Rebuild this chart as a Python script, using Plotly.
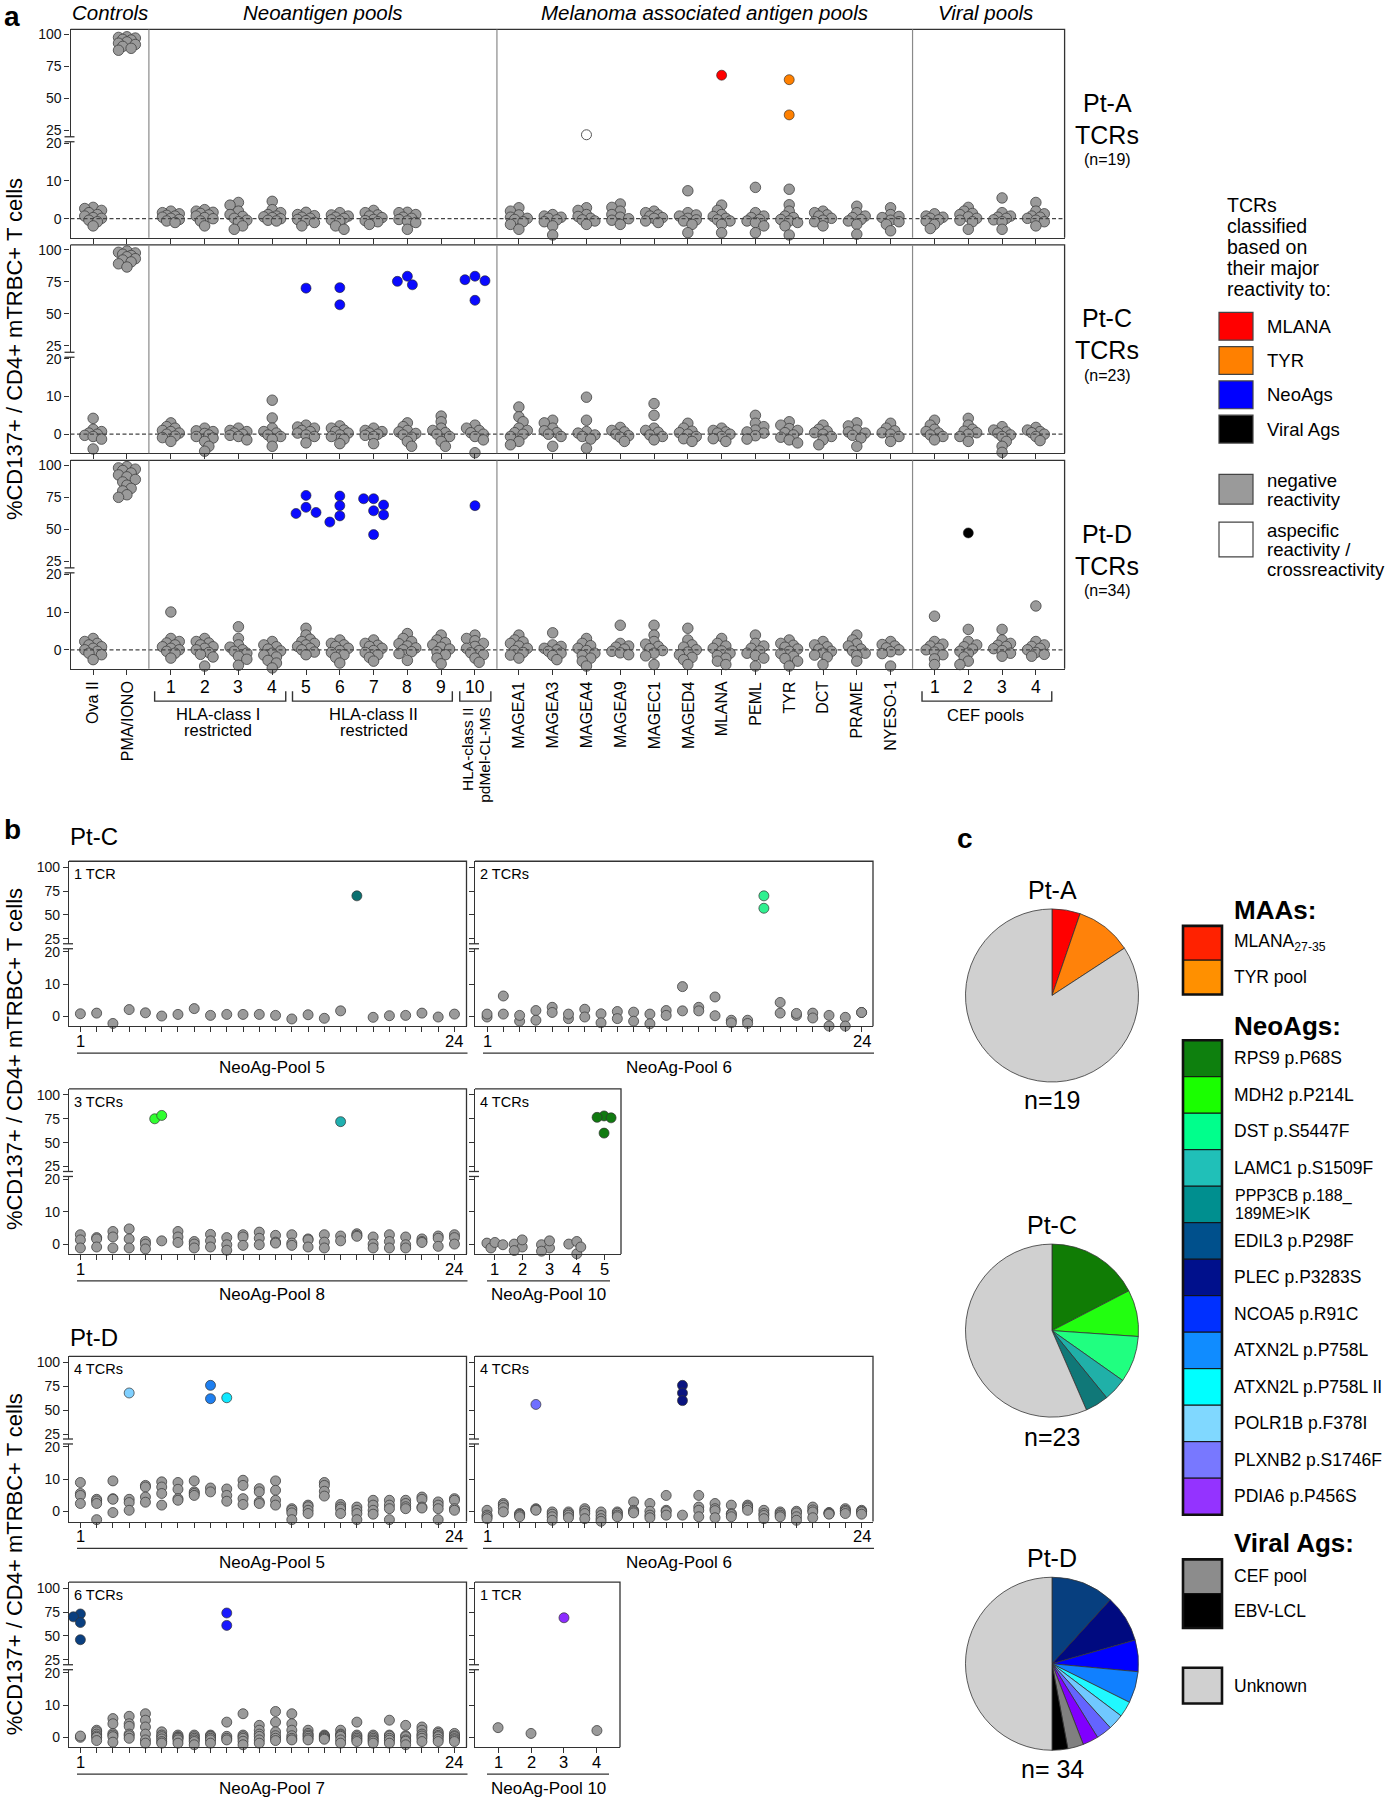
import plotly.graph_objects as go

W, H = 1385, 1800
SANS = "Liberation Sans, Arial, Helvetica, sans-serif"
AX = "#333333"

# ============================ DATA ============================
CONTROL_LABELS = ["Ova II", "PMA/IONO"]
NEO_POOL_LABELS = ["1", "2", "3", "4", "5", "6", "7", "8", "9", "10"]
MAA_LABELS = ["MAGEA1", "MAGEA3", "MAGEA4", "MAGEA9", "MAGEC1", "MAGED4",
              "MLANA", "PEML", "TYR", "DCT", "PRAME", "NYESO-1"]
CEF_POOL_LABELS = ["1", "2", "3", "4"]
GROUP_TITLES = ["Controls", "Neoantigen pools", "Melanoma associated antigen pools", "Viral pools"]
CATEGORY_KEYS = (CONTROL_LABELS + ["Neo " + s for s in NEO_POOL_LABELS] + MAA_LABELS
                 + ["CEF " + s for s in CEF_POOL_LABELS])

# %CD137+ per TCR (negative reactivity), one list per category (order of CATEGORY_KEYS)
PT_A_VALUES = [
    [3.0, 2.7, 2.2, 1.6, 1.1, 0.7, 0.3, 0.1, -0.4, -0.8, -1.9],
    [98, 97.5, 97, 96, 95.5, 94, 93, 92, 90.5, 89, 87.5],
    [2.0, 1.6, 1.3, 0.9, 0.7, 0.4, 0.1, -0.2, -0.6, -1.0],
    [2.4, 2.0, 1.7, 1.4, 1.0, 0.7, 0.3, 0.0, -0.6, -1.9],
    [4.3, 3.6, 2.0, 1.1, 0.6, 0.1, -0.4, -0.8, -1.9, -2.8],
    [4.6, 2.4, 1.6, 1.1, 0.7, 0.5, 0.3, 0.0, -0.4, -0.6],
    [1.7, 1.1, 0.8, 0.4, 0.1, -0.2, -0.5, -1.0, -1.9],
    [1.6, 1.0, 0.7, 0.4, 0.1, -0.3, -0.6, -1.9, -2.8],
    [2.2, 1.6, 1.0, 0.7, 0.3, -0.2, -0.5, -0.8, -1.5],
    [1.7, 1.6, 1.1, 0.4, 0.1, -0.2, -0.6, -1.0, -2.8],
    [],
    [],
    [2.9, 2.0, 1.0, 0.4, 0.1, -0.2, -0.8, -1.5, -2.8],
    [1.1, 0.7, 0.4, 0.1, -0.3, -0.8, -1.9, -4.3],
    [2.9, 2.2, 1.1, 0.6, 0.1, -0.3, -0.6, -1.5],
    [3.9, 3.0, 2.0, 1.1, 0.4, 0.0, -0.4, -1.5],
    [2.0, 1.6, 1.0, 0.7, 0.3, 0.1, -0.6, -1.0],
    [7.4, 1.6, 1.0, 0.7, 0.1, -0.3, -0.6, -1.5, -3.7],
    [3.6, 2.2, 1.1, 0.6, 0.1, -0.3, -0.6, -1.5, -3.7],
    [8.3, 1.6, 0.7, 0.3, -0.2, -0.6, -1.0, -1.9, -3.7],
    [7.8, 3.7, 2.0, 0.7, 0.3, -0.2, -0.6, -1.0, -1.9, -4.3],
    [2.0, 1.6, 1.0, 0.7, 0.1, -0.4, -0.8, -1.9],
    [3.3, 1.6, 0.7, 0.3, -0.2, -0.6, -1.5, -4.1],
    [2.9, 1.1, 0.6, 0.3, -0.4, -0.8, -1.5, -3.2],
    [1.3, 0.7, 0.4, 0.1, -0.3, -0.6, -1.5, -2.6],
    [3.0, 2.0, 1.4, 1.1, 0.5, 0.1, -0.4, -0.8, -2.8],
    [5.5, 1.6, 0.7, 0.4, 0.1, -0.3, -0.8, -2.8],
    [4.3, 2.0, 1.3, 0.7, 0.4, 0.1, -0.4, -0.8, -1.9],
]
PT_C_VALUES = [
    [4.2, 1.3, 0.7, 0.3, 0.0, -0.3, -0.6, -1.3, -3.9],
    [99, 98, 97.5, 96.5, 95.5, 94.5, 93, 92, 90.5, 89, 86.5],
    [3.0, 2.0, 1.6, 1.0, 0.7, 0.3, 0.0, -0.5, -0.9, -1.9],
    [1.6, 0.9, 0.7, 0.2, -0.2, -0.6, -1.0, -1.9, -3.2, -4.5],
    [1.6, 1.0, 0.7, 0.3, 0.0, -0.3, -0.6, -1.5],
    [9.0, 4.3, 1.6, 0.7, 0.3, -0.2, -0.6, -1.3, -3.2],
    [2.4, 1.9, 1.6, 1.0, 0.7, 0.3, -0.2, -0.6, -2.3],
    [2.2, 1.6, 1.1, 0.7, 0.3, -0.2, -0.6, -1.3, -2.5],
    [1.6, 1.0, 0.7, 0.3, 0.0, -0.3, -0.6, -2.5],
    [3.0, 2.0, 1.0, 0.6, 0.2, -0.2, -0.8, -1.9, -3.2],
    [4.8, 3.3, 1.6, 1.0, 0.4, 0.0, -0.6, -1.9, -3.2],
    [2.4, 1.6, 1.0, 0.4, 0.0, -0.6, -1.5, -4.9],
    [7.2, 4.6, 3.3, 1.6, 1.0, 0.4, 0.0, -0.6, -1.9, -2.8],
    [3.7, 3.0, 1.6, 0.9, 0.4, 0.0, -0.6, -3.2],
    [9.8, 3.7, 0.7, 0.3, -0.2, -0.6, -1.3, -3.7],
    [1.8, 1.0, 0.6, 0.0, -0.4, -0.8, -1.9],
    [8.1, 5.0, 1.6, 1.0, 0.5, -0.2, -0.6, -1.5],
    [2.9, 1.6, 0.8, 0.4, 0.0, -0.6, -1.2, -1.9],
    [1.6, 1.0, 0.6, 0.3, 0.0, -0.6, -1.2, -1.9],
    [5.0, 2.9, 2.0, 1.1, 0.6, 0.3, -0.4, -1.3],
    [3.3, 2.4, 1.5, 1.0, 0.4, -0.2, -0.8, -1.5, -2.3],
    [2.4, 1.3, 0.8, 0.4, 0.0, -0.6, -1.5, -2.8],
    [3.0, 2.2, 1.1, 0.6, 0.3, -0.3, -1.0, -3.2],
    [2.9, 1.6, 0.9, 0.4, 0.0, -0.6, -1.9],
    [3.7, 2.4, 1.3, 0.7, 0.3, -0.2, -0.6, -1.5],
    [4.2, 2.4, 1.3, 0.8, 0.4, 0.0, -0.6, -1.9],
    [2.0, 1.1, 0.6, 0.3, -0.2, -0.6, -1.9, -3.2, -4.8],
    [1.8, 1.1, 0.7, 0.4, 0.0, -0.6, -1.7],
]
PT_D_VALUES = [
    [3.0, 2.2, 1.7, 1.3, 0.8, 0.4, 0.0, -0.4, -0.9, -1.3, -2.6],
    [99, 98, 97, 96, 94, 92.5, 91, 89, 87, 84.5, 82, 80, 77, 75],
    [10.0, 3.0, 2.2, 1.8, 1.3, 0.8, 0.4, 0.0, -0.4, -0.9, -2.2],
    [3.0, 2.2, 1.8, 1.3, 0.8, 0.4, 0.0, -0.7, -1.2, -1.9, -4.3],
    [6.1, 3.0, 1.3, 0.7, 0.0, -0.4, -0.9, -1.7, -2.5, -4.1],
    [2.2, 1.3, 0.8, 0.2, -0.3, -0.9, -1.4, -1.9, -2.8, -3.5, -4.8],
    [5.7, 3.9, 2.8, 2.2, 1.7, 1.3, 0.9, 0.4, 0.0, -0.6, -1.3],
    [2.6, 1.7, 1.3, 0.9, 0.4, -0.2, -0.7, -1.3, -2.0, -3.5],
    [2.6, 1.7, 1.2, 0.9, 0.4, -0.2, -0.7, -1.3, -2.0, -3.0],
    [4.3, 3.0, 2.2, 1.6, 1.0, 0.5, 0.0, -0.5, -1.0, -2.8],
    [3.9, 2.6, 1.9, 1.3, 0.7, 0.2, -0.5, -1.3, -2.2, -3.7],
    [3.9, 3.0, 2.4, 1.7, 0.9, 0.4, -0.2, -0.8, -1.3, -2.2, -3.3],
    [3.9, 2.6, 2.1, 1.7, 1.0, 0.4, -0.2, -0.7, -1.4, -2.2],
    [4.5, 1.3, 0.9, 0.4, 0.0, -0.4, -0.9, -1.5, -2.6],
    [3.0, 1.7, 1.1, 0.4, -0.2, -0.9, -1.5, -2.2, -3.0, -4.3],
    [6.5, 1.7, 1.0, 0.7, 0.2, -0.4, -0.8, -1.3],
    [6.5, 3.9, 2.2, 1.5, 0.9, 0.3, -0.2, -0.9, -1.6, -3.9],
    [5.7, 2.6, 1.3, 0.7, 0.0, -0.6, -1.3, -2.0, -2.6, -3.9],
    [3.0, 1.7, 1.0, 0.4, -0.3, -0.9, -1.5, -2.2, -3.0, -3.9],
    [3.9, 1.7, 1.0, 0.4, -0.3, -0.9, -1.5, -2.2, -4.3],
    [2.6, 1.7, 1.2, 0.7, 0.2, -0.4, -1.0, -1.7, -2.3, -3.0, -4.3],
    [2.2, 1.3, 0.8, 0.2, -0.4, -0.9, -1.4, -1.9, -3.9],
    [3.9, 2.6, 1.6, 1.0, 0.2, -0.3, -0.9, -1.5, -3.0],
    [2.2, 1.4, 1.0, 0.5, 0.0, -0.5, -1.0, -4.3],
    [8.9, 2.2, 1.5, 1.0, 0.4, 0.0, -0.6, -1.3, -2.4, -3.9],
    [5.4, 2.2, 1.3, 0.8, 0.2, -0.4, -0.9, -1.9, -3.0, -3.9],
    [5.4, 2.6, 1.7, 1.2, 0.9, 0.3, -0.2, -0.9, -1.7],
    [11.6, 2.2, 1.3, 0.9, 0.4, 0.0, -0.7, -1.2, -1.7],
]
# reactive TCRs: (category, value, class)
PT_A_HITS = [("MLANA", 68.0, "MLANA"), ("TYR", 64.5, "TYR"), ("TYR", 37.0, "TYR")]
PT_C_HITS = [("Neo 5", 70.0, "NeoAg"), ("Neo 6", 70.4, "NeoAg"), ("Neo 6", 57.0, "NeoAg"),
             ("Neo 8", 79.3, "NeoAg"), ("Neo 8", 75.3, "NeoAg"), ("Neo 8", 72.6, "NeoAg"),
             ("Neo 10", 79.3, "NeoAg"), ("Neo 10", 76.6, "NeoAg"), ("Neo 10", 75.8, "NeoAg"),
             ("Neo 10", 60.5, "NeoAg")]
PT_D_HITS = [("Neo 5", 76.5, "NeoAg"), ("Neo 5", 67.2, "NeoAg"), ("Neo 5", 63.2, "NeoAg"),
             ("Neo 5", 62.4, "NeoAg"), ("Neo 6", 76.0, "NeoAg"), ("Neo 6", 68.5, "NeoAg"),
             ("Neo 6", 60.5, "NeoAg"), ("Neo 6", 55.7, "NeoAg"), ("Neo 7", 73.9, "NeoAg"),
             ("Neo 7", 73.9, "NeoAg"), ("Neo 7", 69.0, "NeoAg"), ("Neo 7", 64.5, "NeoAg"),
             ("Neo 7", 61.3, "NeoAg"), ("Neo 7", 45.9, "NeoAg"), ("Neo 10", 68.5, "NeoAg"),
             ("CEF 2", 47.2, "Viral")]
PT_A_ASPECIFIC = [("MAGEA4", 21.5)]
PATIENT_NAMES = ["Pt-A", "Pt-C", "Pt-D"]
PATIENT_N = [19, 23, 34]

CLASS_COLORS = {"MLANA": "#ff0000", "TYR": "#ff8000", "NeoAg": "#0a0aff", "Viral": "#000000"}
LEGEND_A_LABELS = ["MLANA", "TYR", "NeoAgs", "Viral Ags"]
LEGEND_A_COLORS = ["#ff0000", "#ff8000", "#0000ff", "#000000"]

# ---- panel b: per peptide position, negative TCR values; hits (position, value, antigen)
PTC_POOL5 = [[0.8], [1.0], [-2.2], [2.1], [1.1], [0.1], [0.6], [2.4], [0.3], [0.6], [0.6], [0.6],
             [0.3], [-0.8], [0.5], [-0.6], [1.7], [], [-0.3], [0.2], [0.3], [1.0], [-0.2], [0.7]]
PTC_POOL5_HITS = [(18, 70.0, "PPP3CB")]
PTC_POOL6 = [[-0.2, 0.7], [6.3, 0.7], [-1.5, 0.3], [1.8, -1.2], [2.8, 1.2], [-0.7, 0.7],
             [2.2, -0.2], [0.8, -2.0], [1.5, -0.7], [1.3, -1.5], [0.7, -2.3], [1.8, 0.3],
             [9.2, 1.7], [2.8, 1.7], [6.0, 0.2], [-1.2, -2.0], [-1.2, -2.2], [],
             [4.3, 1.0], [0.3, 0.9], [1.0, -0.5], [0.3, -3.0], [-0.3, -3.0], [1.2, 1.2]]
PTC_POOL6_HITS = [(18, 70.0, "DST"), (18, 57.0, "DST")]
PTC_POOL8 = [[2.9, 1.3, -1.2], [2.0, 1.6, -0.9], [3.9, 2.2, -1.2], [4.7, 1.6, -1.2],
             [0.8, 0.0, -1.5], [1.0], [3.9, 2.2, 0.5], [0.8, 0.0, -1.2], [3.0, 1.0, -0.9],
             [2.0, -0.2, -1.9], [2.9, 2.2, -0.4], [3.7, 1.8, -0.2], [2.7, 0.6, 0.3],
             [2.9, 0.3, -0.4], [1.6, 1.3, -0.9], [2.9, 0.6, -1.2], [2.5, 1.0],
             [3.2, 2.7, 2.4], [2.2, 0.0, -1.2], [2.9, 0.8, -1.2], [2.2, -0.2, -1.2],
             [1.6, 0.8, 0.5], [2.5, 1.8, -0.7], [2.9, 2.0, 0.0]]
PTC_POOL8_HITS = [(6, 75.0, "MDH2"), (6, 78.5, "MDH2"), (17, 72.0, "LAMC1")]
PTC_POOL10 = [[0.3, -1.2, 0.5, -0.2], [0.0, -0.9, 1.3, -2.0], [-0.2, -1.2, 1.0, -2.2],
              [0.0, -3.0, 0.8, -0.9], []]
PTC_POOL10_HITS = [(5, 78.0, "RPS9"), (5, 76.0, "RPS9"), (5, 76.5, "RPS9"), (5, 60.0, "RPS9")]

PTD_POOL5 = [[9.0, 5.6, 5.0, 2.5], [3.8, 3.3, 2.5, -2.5], [9.5, 4.0, 3.8, -0.3], [3.8, 2.8, 0.4],
             [8.1, 7.6, 4.5, 2.9], [9.2, 7.6, 5.6, 2.0], [9.0, 6.9, 4.0, 3.5], [9.5, 6.1, 5.6, 5.0],
             [7.3, 6.1], [7.0, 5.0, 3.2], [9.7, 8.1, 4.0, 2.2], [7.1, 6.1, 3.0, 2.5],
             [9.5, 6.6, 3.5, 2.0], [0.9, 0.4, -0.4, -2.5], [2.0, 1.5, 0.4, -0.6],
             [9.0, 8.1, 6.3, 4.8], [2.2, 1.4, 0.8, -0.6], [1.4, 0.4, -0.6, -2.5],
             [3.5, 2.0, 0.4, -0.8], [3.5, 2.0, 0.9, -2.5], [3.5, 2.5, 1.5, 0.9],
             [4.5, 3.8, 1.4, 1.1], [3.0, 2.0, 0.9, -2.5], [4.0, 3.5, 0.9, 0.4]]
PTD_POOL5_HITS = [(4, 68.0, "POLR1B"), (9, 76.0, "ATXN2L"), (9, 62.0, "ATXN2L"),
                  (10, 63.0, "ATXN2L II")]
PTD_POOL6 = [[0.4, -1.1, -1.6, -2.2], [2.5, 2.0, 1.2, -0.1], [-0.6, -0.9, -1.1, -1.6],
             [0.9, 0.6, 0.4], [-0.1, -0.8, -1.6, -2.7], [-0.1, -0.6, -1.1, -1.9],
             [0.9, 0.2, -0.6, -2.2], [-0.1, -1.2, -2.2, -3.0], [-0.1, -0.5, -1.1, -1.6],
             [3.0, 0.4, 0.0, -0.4], [2.5, 0.1, -1.1, -1.9], [5.0, 0.4, 0.0, -1.1], [-1.1],
             [5.0, 1.4, 0.4, -1.6], [2.5, 0.9, 0.3, -1.9], [2.0, -0.6, -0.9, -1.6],
             [2.0, 1.5, 1.1, 0.4], [0.4, -0.6, -1.2, -2.2], [-0.1, -0.6, -1.1, -1.6],
             [0.1, -0.4, -1.6, -2.7], [1.4, 0.5, -0.1, -1.9], [-0.3, -0.4, -0.6, -0.8],
             [0.9, 0.4, 0.0, -0.6], [0.4, 0.0, -0.1, -0.8]]
PTD_POOL6_HITS = [(4, 56.0, "PLXNB2"), (13, 76.0, "PLEC"), (13, 68.0, "PLEC"), (13, 60.0, "PLEC")]
PTD_POOL7 = [[0.0, 0.4], [2.2, 1.7, 1.0, 0.4, 0.0, -1.0], [5.8, 4.2, 1.2, 0.7, 0.2, -1.5],
             [6.5, 4.2, 3.4, 1.0, 0.5, -0.3], [7.3, 5.3, 3.2, 1.0, -0.8, -1.8],
             [1.7, 0.7, 0.2, -0.5, -1.3, -1.8], [0.7, 0.2, 0.0, -0.3, -0.8, -1.8],
             [0.7, 0.2, -0.3, -0.8, -1.3, -2.3], [0.7, 0.4, 0.2, -0.3, -0.8, -1.8],
             [4.7, 0.3, -0.3, -0.8], [7.3, 0.7, 0.2, -0.3, -1.2, -2.3],
             [3.7, 2.2, 1.0, 0.3, -0.8, -1.8], [8.0, 4.7, 1.7, 0.5, -0.3, -1.0],
             [7.3, 4.2, 2.2, 0.5, -0.3, -0.8], [2.2, 1.2, 0.7, 0.3, -0.3, -0.8],
             [0.7, 0.4, 0.2, -0.1, -0.3, -0.6], [2.2, 1.0, 0.7, 0.3, -0.8, -1.8],
             [4.7, 0.7, 0.2, -0.3, -0.8, -1.3], [0.7, 0.2, -0.3, -0.8, -1.2, -1.8],
             [5.3, 0.7, 0.4, -0.3, -0.9, -1.8], [3.7, 0.5, 0.2, -0.8, -1.2, -2.3],
             [3.2, 2.2, 1.0, 0.4, -0.3, -1.3], [1.7, 1.2, 0.6, 0.2, -0.6, -1.3],
             [1.2, 0.5, 0.2, -0.4, -0.8, -1.3]]
PTD_POOL7_HITS = [(1, 73.0, "EDIL3"), (1, 70.0, "EDIL3"), (1, 64.0, "EDIL3"), (1, 46.0, "EDIL3"),
                  (10, 74.0, "NCOA5"), (10, 61.0, "NCOA5")]
PTD_POOL10 = [[3.0], [1.2], [], [2.1]]
PTD_POOL10_HITS = [(3, 69.0, "PDIA6")]

# ---- panel c
MAA_NAMES = ["MLANA<sub>27-35</sub>", "TYR pool"]
MAA_COLORS = ["#ff2200", "#ff9000"]
NEO_NAMES = ["RPS9 p.P68S", "MDH2 p.P214L", "DST p.S5447F", "LAMC1 p.S1509F",
             "PPP3CB p.188_<br>189ME>IK", "EDIL3 p.P298F", "PLEC p.P3283S", "NCOA5 p.R91C",
             "ATXN2L p.P758L", "ATXN2L p.P758L II", "POLR1B p.F378I", "PLXNB2 p.S1746F",
             "PDIA6 p.P456S"]
NEO_KEYS = ["RPS9", "MDH2", "DST", "LAMC1", "PPP3CB", "EDIL3", "PLEC", "NCOA5", "ATXN2L",
            "ATXN2L II", "POLR1B", "PLXNB2", "PDIA6"]
NEO_COLORS = ["#0e800e", "#1aff00", "#00ff8c", "#20c0b8", "#008f8f", "#00508c", "#00108c",
              "#0030ff", "#108cff", "#00ffff", "#80d8ff", "#7878ff", "#9433ff"]
NEO_POINT_COLORS = ["#107a10", "#30ff30", "#30f090", "#20b0b0", "#0b7070", "#0a3f80", "#0a1480",
                    "#1a1aff", "#1e7ff0", "#10e8ff", "#80d0ff", "#6f6fff", "#8c2cff"]
VIRAL_NAMES = ["CEF pool", "EBV-LCL"]
VIRAL_COLORS = ["#8c8c8c", "#000000"]
UNKNOWN_COLOR = "#d0d0d0"

PIE_A_LABELS = ["MLANA", "TYR", "Unknown"]
PIE_A_COUNTS = [1, 2, 16]
PIE_A_COLORS = ["#ff0000", "#ff820a", UNKNOWN_COLOR]
PIE_C_LABELS = ["RPS9", "MDH2", "DST", "LAMC1", "PPP3CB", "Unknown"]
PIE_C_COUNTS = [4, 2, 2, 1, 1, 13]
PIE_C_COLORS = ["#107c05", "#22ff10", "#20ff80", "#20b0a8", "#107878", UNKNOWN_COLOR]
PIE_D_LABELS = ["EDIL3", "PLEC", "NCOA5", "ATXN2L", "ATXN2L II", "POLR1B", "PLXNB2", "PDIA6",
                "CEF pool", "EBV-LCL", "Unknown"]
PIE_D_COUNTS = [4, 3, 2, 2, 1, 1, 1, 1, 1, 1, 17]
PIE_D_COLORS = ["#073f7f", "#000a80", "#0000ff", "#1080ff", "#20f8ff", "#70c8ff", "#6464ff",
                "#8000ff", "#808080", "#000000", UNKNOWN_COLOR]

# ============================ HELPERS ============================
def fx(x):
    return x / W


def fy(y):
    return 1 - y / H


traces, shapes, annotations, axes = [], [], [], {}
counter = {"x": 0, "y": 0}


def new_axis(kind):
    counter[kind] += 1
    n = counter[kind]
    return (kind if n == 1 else f"{kind}{n}"), (f"{kind}axis" if n == 1 else f"{kind}axis{n}")


def text(x, y, s, size=16, xanchor="center", yanchor="middle", angle=0, xref="paper",
         family=SANS, color="#000"):
    annotations.append(dict(x=fx(x) if xref == "paper" else x, y=fy(y), xref=xref, yref="paper",
                            text=s, showarrow=False, xanchor=xanchor, yanchor=yanchor,
                            textangle=angle, borderpad=0,
                            font=dict(size=size, family=family, color=color)))


def hline(x0, x1, y, width=1.3, color=AX):
    shapes.append(dict(type="line", xref="paper", yref="paper", x0=fx(x0), x1=fx(x1),
                       y0=fy(y), y1=fy(y), line=dict(color=color, width=width)))


def rect(x0, y0, x1, y1, fill, lw=1.0, color="#111"):
    shapes.append(dict(type="rect", xref="paper", yref="paper", x0=fx(x0), x1=fx(x1),
                       y0=fy(y1), y1=fy(y0), fillcolor=fill, line=dict(color=color, width=lw)))


def swarm(ys_px, mind, step, maxk=3):
    """Beeswarm x-offsets (px) for points at pixel heights ys_px."""
    n = len(ys_px)
    order = sorted(range(n), key=lambda i: -ys_px[i])
    placed, offs = [], [0.0] * n
    for j, i in enumerate(order):
        y = ys_px[i]
        sgn = 1 if j % 2 == 0 else -1
        cands = [0.0]
        for k in range(1, maxk + 1):
            cands += [sgn * k * step, -sgn * k * step]
        best, fb, fbd = None, 0.0, -1.0
        for c in cands:
            d = min((((c - a) ** 2 + (y - b) ** 2) ** 0.5 for a, b in placed), default=1e9)
            if d >= mind:
                best = c
                break
            if d > fbd:
                fbd, fb = d, c
        if best is None:
            best = fb
        placed.append((best, y))
        offs[i] = best
    return offs


def markers(xn, yn, xs, ys, colors, size, line_color="#404040", lw=0.8):
    if not xs:
        return
    traces.append(go.Scatter(x=xs, y=ys, xaxis=xn, yaxis=yn, mode="markers", cliponaxis=False,
                             hoverinfo="skip", showlegend=False,
                             marker=dict(size=size, color=colors,
                                         line=dict(color=line_color, width=lw))))


def broken_panel(left, right, top, height, up_off, low_off, up_range, low_range, xrange, xticks,
                 ylabels=True, tick_size=14, zero_line=False):
    bottom = top + height
    xn, xk = new_axis("x")
    yun, yuk = new_axis("y")
    yln, ylk = new_axis("y")
    common = dict(showgrid=False, zeroline=False, showline=True, linecolor=AX, linewidth=1.3,
                  ticks="outside", tickcolor=AX, tickwidth=1.2, ticklen=5, fixedrange=True,
                  tickfont=dict(family=SANS, size=tick_size, color="#111"))
    axes[xk] = dict(common, domain=[fx(left), fx(right)], range=xrange, anchor=yln,
                    tickvals=xticks, showticklabels=False)
    axes[ylk] = dict(common, domain=[fy(bottom), fy(top + low_off)], range=low_range, anchor=xn,
                     tickvals=[0, 10, 20], showticklabels=ylabels)
    axes[yuk] = dict(common, domain=[fy(top + up_off), fy(top)], range=up_range, anchor=xn,
                     tickvals=[25, 50, 75, 100], showticklabels=ylabels)
    shapes.append(dict(type="path", xref="paper", yref="paper",
                       path=f"M {fx(left)},{fy(top)} L {fx(right)},{fy(top)} L {fx(right)},{fy(bottom)}",
                       line=dict(color=AX, width=1.3)))
    for yy in (top + up_off, top + low_off):
        hline(left - 6, left + 4, yy)
    if zero_line:
        shapes.append(dict(type="line", xref=xn, yref=yln, x0=xrange[0], x1=xrange[1], y0=0, y1=0,
                           line=dict(color="#444", width=1.3, dash="4px,2.5px")))
    return xn, yun, yln


# ============================ PANEL a ============================
GROUPS = [CONTROL_LABELS, NEO_POOL_LABELS, MAA_LABELS, CEF_POOL_LABELS]
GROUP_GAP = 1.3
CAT_POS, GROUP_SPANS = [], []
cur = 0.0
for gi, g in enumerate(GROUPS):
    if gi > 0:
        cur += GROUP_GAP - 1
    start = cur
    for _ in g:
        CAT_POS.append(cur)
        cur += 1
    GROUP_SPANS.append((start, cur - 1))
SEPS = [(GROUP_SPANS[i][1] + GROUP_SPANS[i + 1][0]) / 2 for i in range(3)]
XR_A = [CAT_POS[0] - 0.67, CAT_POS[-1] + 0.85]
A_LEFT, A_RIGHT = 70.5, 1064.6
PPX_A = (A_RIGHT - A_LEFT) / (XR_A[1] - XR_A[0])
ROW_TOPS_A = [22.5, 239.2, 456.0]
ROW_H_A = 209.5
UP_OFF_A, LOW_OFF_A = 108, 113
UP_PPU_A = (99.7 - 6.7) / 75
LOW_PPU_A = 3.8
UP_RANGE_A = [25 - (UP_OFF_A - 2 - 99.7) / UP_PPU_A, 100 + (6.7 - 2) / UP_PPU_A]
LOW_RANGE_A = [-(ROW_H_A - 2 - 188.4) / LOW_PPU_A, 20 + (112.4 + 2 - LOW_OFF_A) / LOW_PPU_A]

rows_data = [(PT_A_VALUES, PT_A_HITS, PT_A_ASPECIFIC), (PT_C_VALUES, PT_C_HITS, []),
             (PT_D_VALUES, PT_D_HITS, [])]
xa_last = None
for r, (vals, hits, aspec) in enumerate(rows_data):
    top = ROW_TOPS_A[r]
    xn, yun, yln = broken_panel(A_LEFT, A_RIGHT, top, ROW_H_A, UP_OFF_A, LOW_OFF_A, UP_RANGE_A,
                                LOW_RANGE_A, XR_A, CAT_POS, tick_size=14, zero_line=True)
    xa_last = xn
    for s in SEPS:
        shapes.append(dict(type="line", xref=xn, yref="paper", x0=s, x1=s, y0=fy(top),
                           y1=fy(top + ROW_H_A), line=dict(color="#8a8a8a", width=1.2)))
    lx, ly, ux, uy = [], [], [], []
    for i, v in enumerate(vals):
        low = [a for a in v if a < 21]
        up = [a for a in v if a >= 21]
        for a, o in zip(low, swarm([a * LOW_PPU_A for a in low], 5.5, 4.2, 2)):
            lx.append(CAT_POS[i] + o / PPX_A)
            ly.append(a)
        for a, o in zip(up, swarm([a * UP_PPU_A for a in up], 5.0, 4.2, 2)):
            ux.append(CAT_POS[i] + o / PPX_A)
            uy.append(a)
    markers(xn, yln, lx, ly, "#9a9a9a", 10.5)
    markers(xn, yun, ux, uy, "#9a9a9a", 10.5)
    hx, hy, hc = [], [], []
    for key in dict.fromkeys(h[0] for h in hits):
        grp = [h for h in hits if h[0] == key]
        ci = CATEGORY_KEYS.index(key)
        for h, o in zip(grp, swarm([h[1] * UP_PPU_A for h in grp], 8.5, 5.0, 3)):
            hx.append(CAT_POS[ci] + o / PPX_A)
            hy.append(h[1])
            hc.append(CLASS_COLORS[h[2]])
    markers(xn, yun, hx, hy, hc, 10, line_color="#222", lw=0.6)
    if aspec:
        markers(xn, yun, [CAT_POS[CATEGORY_KEYS.index(a[0])] for a in aspec],
                [a[1] for a in aspec], "#ffffff", 10, line_color="#555", lw=1.0)
    # patient labels on the right
    text(1107, top + 74, PATIENT_NAMES[r], size=25)
    text(1107, top + 106, "TCRs", size=25)
    text(1107, top + 131, f"(n={PATIENT_N[r]})", size=16)

# group titles
for (s, e), t in zip(GROUP_SPANS, GROUP_TITLES):
    text((s + e) / 2, 6, f"<i>{t}</i>", size=20.5, xref=xa_last)

# x labels under the last row
LABEL_TOP = 677
for i, key in enumerate(CATEGORY_KEYS):
    if key in CONTROL_LABELS or key in MAA_LABELS:
        text(CAT_POS[i], LABEL_TOP, key, size=16, angle=-90, yanchor="top", xref=xa_last)
    else:
        text(CAT_POS[i], 684, key.split(" ")[1], size=17.5, xref=xa_last)


def bracket(x0, x1, y0=688, y1=698):
    shapes.append(dict(type="path", xref=xa_last, yref="paper",
                       path=f"M {x0},{fy(y0)} L {x0},{fy(y1)} L {x1},{fy(y1)} L {x1},{fy(y0)}",
                       line=dict(color=AX, width=1.4)))


neo_idx = [CATEGORY_KEYS.index("Neo " + s) for s in NEO_POOL_LABELS]
cef_idx = [CATEGORY_KEYS.index("CEF " + s) for s in CEF_POOL_LABELS]
bracket(CAT_POS[neo_idx[0]] - 0.48, CAT_POS[neo_idx[3]] + 0.4)
bracket(CAT_POS[neo_idx[4]] - 0.4, CAT_POS[neo_idx[8]] + 0.33)
bracket(CAT_POS[neo_idx[9]] - 0.45, CAT_POS[neo_idx[9]] + 0.47)
bracket(CAT_POS[cef_idx[0]] - 0.37, CAT_POS[cef_idx[3]] + 0.47)
mid14 = (CAT_POS[neo_idx[0]] + CAT_POS[neo_idx[3]]) / 2
mid59 = (CAT_POS[neo_idx[4]] + CAT_POS[neo_idx[8]]) / 2
midcef = (CAT_POS[cef_idx[0]] + CAT_POS[cef_idx[3]]) / 2
text(mid14 - 0.1, 711, "HLA-class I", size=16.5, xref=xa_last)
text(mid14 - 0.1, 727, "restricted", size=16.5, xref=xa_last)
text(mid59, 711, "HLA-class II", size=16.5, xref=xa_last)
text(mid59, 727, "restricted", size=16.5, xref=xa_last)
text(midcef, 712, "CEF pools", size=16.5, xref=xa_last)
text(CAT_POS[neo_idx[9]] - 0.24, 703, "HLA-class II", size=15.5, angle=-90, yanchor="top",
     xref=xa_last)
text(CAT_POS[neo_idx[9]] + 0.26, 703, "pdMel-CL-MS", size=15.5, angle=-90, yanchor="top",
     xref=xa_last)

text(12, 10, "<b>a</b>", size=28)
text(14, 344, "%CD137+ / CD4+ mTRBC+ T cells", size=22, angle=-90)

# legend of panel a
for k, line in enumerate(["TCRs", "classified", "based on", "their major", "reactivity to:"]):
    text(1226, 199 + k * 21.2, line, size=19.5, xanchor="left")
for k, (lab, col) in enumerate(zip(LEGEND_A_LABELS, LEGEND_A_COLORS)):
    yc = 321 + k * 34.5
    rect(1219, yc - 14, 1253, yc + 14, col, lw=1.2, color="#444")
    text(1266, yc, lab, size=18.5, xanchor="left")
rect(1219, 470, 1253, 500, "#9a9a9a", lw=1.2, color="#444")
text(1266, 476, "negative", size=18.5, xanchor="left")
text(1266, 495, "reactivity", size=18.5, xanchor="left")
rect(1219, 518, 1253, 553, "#ffffff", lw=1.2, color="#444")
text(1266, 526, "aspecific", size=18.5, xanchor="left")
text(1266, 546, "reactivity /", size=18.5, xanchor="left")
text(1266, 566, "crossreactivity", size=18.5, xanchor="left")

# ============================ PANEL b ============================
B_H = 166
B_UP_OFF, B_LOW_OFF = 83, 88
B_UP_RANGE = [19.8, 106.25]
B_LOW_RANGE = [-3.08, 20.92]
B_PANELS = [
    dict(top=859, left=69, right=466.5, xr=[0.3, 24.74], vals=PTC_POOL5, hits=PTC_POOL5_HITS,
         tag="1 TCR", name="NeoAg-Pool 5", ylab=True, small=False),
    dict(top=859, left=475, right=873, xr=[0.26, 24.7], vals=PTC_POOL6, hits=PTC_POOL6_HITS,
         tag="2 TCRs", name="NeoAg-Pool 6", ylab=False, small=False),
    dict(top=1088, left=69, right=466.5, xr=[0.3, 24.74], vals=PTC_POOL8, hits=PTC_POOL8_HITS,
         tag="3 TCRs", name="NeoAg-Pool 8", ylab=True, small=False),
    dict(top=1088, left=475, right=621, xr=[0.27, 5.62], vals=PTC_POOL10, hits=PTC_POOL10_HITS,
         tag="4 TCRs", name="NeoAg-Pool 10", ylab=False, small=True),
    dict(top=1357, left=69, right=466.5, xr=[0.3, 24.74], vals=PTD_POOL5, hits=PTD_POOL5_HITS,
         tag="4 TCRs", name="NeoAg-Pool 5", ylab=True, small=False),
    dict(top=1357, left=475, right=873, xr=[0.26, 24.7], vals=PTD_POOL6, hits=PTD_POOL6_HITS,
         tag="4 TCRs", name="NeoAg-Pool 6", ylab=False, small=False),
    dict(top=1584, left=69, right=466.5, xr=[0.3, 24.74], vals=PTD_POOL7, hits=PTD_POOL7_HITS,
         tag="6 TCRs", name="NeoAg-Pool 7", ylab=True, small=False),
    dict(top=1584, left=475, right=620, xr=[0.3, 4.7], vals=PTD_POOL10, hits=PTD_POOL10_HITS,
         tag="1 TCR", name="NeoAg-Pool 10", ylab=False, small=True),
]
color_of = dict(zip(NEO_KEYS, NEO_POINT_COLORS))
for p in B_PANELS:
    npos = len(p["vals"])
    ticks = list(range(1, npos + 1))
    xn, yun, yln = broken_panel(p["left"], p["right"], p["top"], B_H, B_UP_OFF, B_LOW_OFF,
                                B_UP_RANGE, B_LOW_RANGE, p["xr"], ticks, ylabels=p["ylab"],
                                tick_size=14)
    ppx = (p["right"] - p["left"]) / (p["xr"][1] - p["xr"][0])
    gx, gy = [], []
    for j, v in enumerate(p["vals"]):
        offs = swarm([a * 3.25 for a in v], 6.0, 4.0, 2) if p["small"] else [0.0] * len(v)
        for a, o in zip(v, offs):
            gx.append(j + 1 + o / ppx)
            gy.append(a)
    markers(xn, yln, gx, gy, "#9a9a9a", 10)
    hx, hy, hc = [], [], []
    for pos in dict.fromkeys(h[0] for h in p["hits"]):
        grp = [h for h in p["hits"] if h[0] == pos]
        for h, o in zip(grp, swarm([h[1] * 0.96 for h in grp], 5.5, 3.5, 2)):
            hx.append(pos + o / ppx)
            hy.append(h[1])
            hc.append(color_of[h[2]])
    markers(xn, yun, hx, hy, hc, 10, line_color="#333", lw=0.7)
    t = p["top"]
    text(p["left"] + 4, t + 13, p["tag"], size=14.5, xanchor="left")
    if p["small"]:
        for j in range(npos):
            text(j + 1, t + 181, str(j + 1), size=16.5, xref=xn)
        line_x0, line_x1 = p["left"] + 12, p["right"] - 11
    else:
        text(1, t + 181, "1", size=16.5, xref=xn)
        text(npos, t + 181, str(npos), size=16.5, xref=xn)
        line_x0, line_x1 = p["left"] + 8, p["right"] + 1
    hline(line_x0, line_x1, t + 193, width=1.3)
    text((line_x0 + line_x1) / 2, t + 207, p["name"], size=17)

text(12, 827, "<b>b</b>", size=28)
text(69, 834, "Pt-C", size=24, xanchor="left")
text(69, 1338, "Pt-D", size=24, xanchor="left")
text(14, 1058, "%CD137+ / CD4+ mTRBC+ T cells", size=22, angle=-90)
text(14, 1566, "%CD137+ / CD4+ mTRBC+ T cells", size=22, angle=-90)

# ============================ PANEL c ============================
PIES = [("Pt-A", "n=19", PIE_A_LABELS, PIE_A_COUNTS, PIE_A_COLORS, 907, 888, 1099),
        ("Pt-C", "n=23", PIE_C_LABELS, PIE_C_COUNTS, PIE_C_COLORS, 1244, 1225, 1438),
        ("Pt-D", "n= 34", PIE_D_LABELS, PIE_D_COUNTS, PIE_D_COLORS, 1579, 1560, 1772)]
for title, ntext, labs, counts, cols, ptop, ty, ny in PIES:
    traces.append(go.Pie(labels=labs, values=counts, sort=False, direction="clockwise",
                         rotation=0, textinfo="none", hoverinfo="label+value", showlegend=False,
                         marker=dict(colors=cols, line=dict(color="#333", width=0.8)),
                         domain=dict(x=[fx(965), fx(1139)], y=[fy(ptop + 174), fy(ptop)])))
    text(1052, ty, title, size=25)
    text(1052, ny, ntext, size=25)
text(965, 836, "<b>c</b>", size=28)

SW_X0, SW_X1, TX = 1183, 1222, 1233
text(TX, 908, "<b>MAAs:</b>", size=26, xanchor="left")
for k, (nm, col) in enumerate(zip(MAA_NAMES, MAA_COLORS)):
    y0 = 924 + k * 34.5
    rect(SW_X0, y0, SW_X1, y0 + 34.5, col, lw=1.0)
    text(TX, y0 + 17, nm, size=17.5, xanchor="left")
rect(SW_X0, 924, SW_X1, 993, "rgba(0,0,0,0)", lw=2.6)
text(TX, 1025, "<b>NeoAgs:</b>", size=26, xanchor="left")
NEO_STEP = 36.7
for k, (nm, col) in enumerate(zip(NEO_NAMES, NEO_COLORS)):
    y0 = 1039 + k * NEO_STEP
    rect(SW_X0, y0, SW_X1, y0 + NEO_STEP, col, lw=1.0)
    if "<br>" in nm:
        a, b = nm.split("<br>")
        text(TX + 1, y0 + 10, a, size=16, xanchor="left")
        text(TX + 1, y0 + 27, b, size=16, xanchor="left")
    else:
        text(TX, y0 + NEO_STEP / 2, nm, size=17.5, xanchor="left")
rect(SW_X0, 1039, SW_X1, 1039 + 13 * NEO_STEP, "rgba(0,0,0,0)", lw=2.6)
text(TX, 1545, "<b>Viral Ags:</b>", size=26, xanchor="left")
for k, (nm, col) in enumerate(zip(VIRAL_NAMES, VIRAL_COLORS)):
    y0 = 1561 + k * 34.5
    rect(SW_X0, y0, SW_X1, y0 + 34.5, col, lw=1.0)
    text(TX, y0 + 17, nm, size=17.5, xanchor="left")
rect(SW_X0, 1561, SW_X1, 1630, "rgba(0,0,0,0)", lw=2.6)
rect(SW_X0, 1670, SW_X1, 1706, UNKNOWN_COLOR, lw=2.6)
text(TX, 1688, "Unknown", size=17.5, xanchor="left")

# ============================ FIGURE ============================
fig = go.Figure(data=traces)
fig.update_layout(width=W, height=H, margin=dict(l=0, r=0, t=0, b=0), paper_bgcolor="white",
                  plot_bgcolor="rgba(0,0,0,0)", showlegend=False, shapes=shapes,
                  annotations=annotations, font=dict(family=SANS, color="#000"), **axes)
fig.write_html("out.html", config={"displayModeBar": False},
               post_script="document.body.style.margin='0px';")
